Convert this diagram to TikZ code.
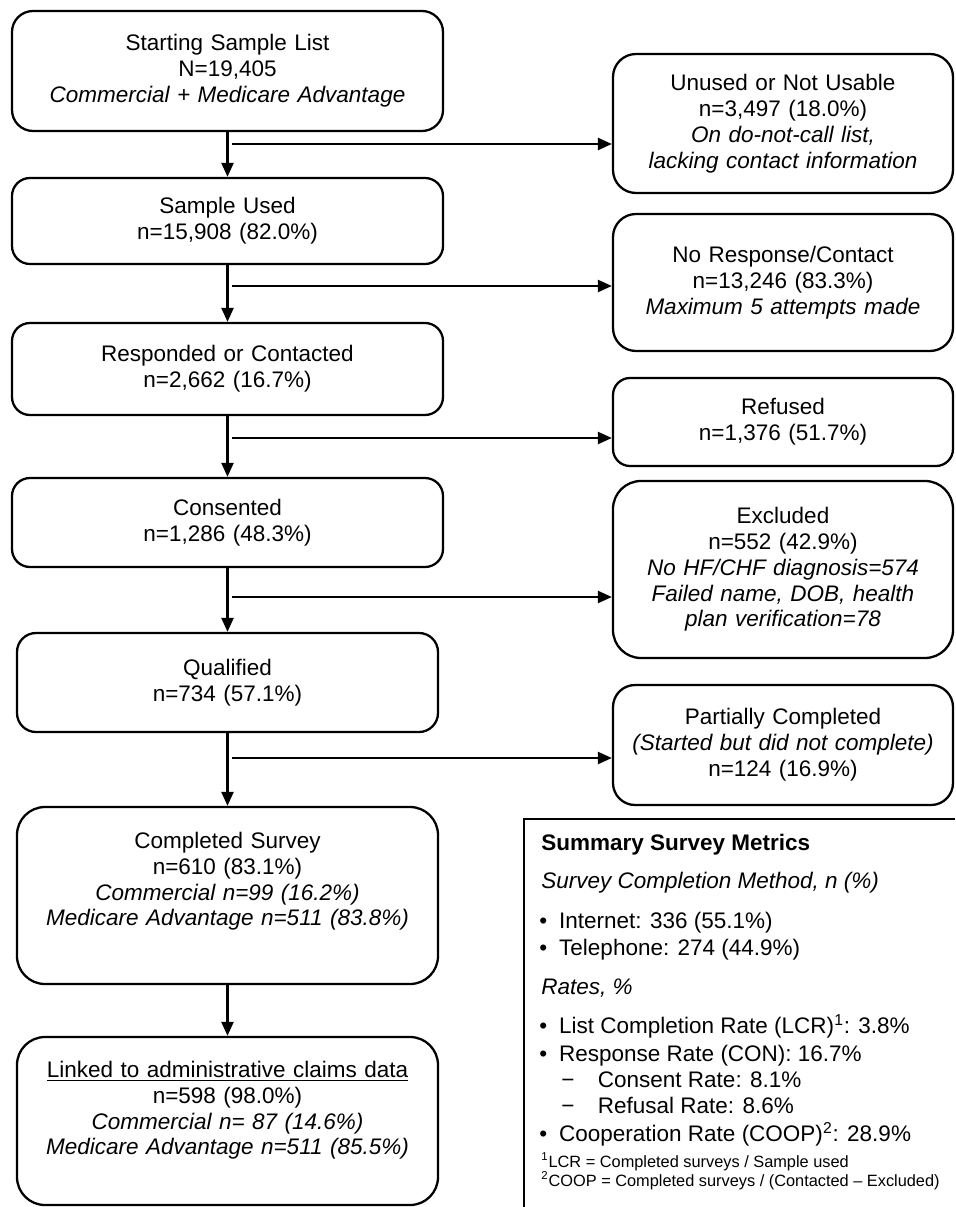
\documentclass[tikz,border=0pt]{standalone}
\usepackage{fontspec}
\setmainfont{Liberation Sans}
\usetikzlibrary{arrows.meta,calc}
\newcommand{\boxfont}{\fontsize{12.8}{14.7}\selectfont}
\newcommand{\notefont}{\fontsize{9.3}{10.8}\selectfont}
\tikzset{
	stage/.style={
			draw, line width=1.3pt, align=center, inner sep=0.15cm,
			font=\boxfont
		},
	mainbox/.style={stage, text width=8.32cm, minimum height=#1},
	sidebox/.style={stage, text width=6.5cm, minimum height=#1},
	flow/.style={-{Triangle[length=0.28cm, width=0.24cm]}, line width=1.3pt},
	metric/.style={anchor=base west, inner sep=0pt, font=\boxfont}
}
\begin{document}
\begin{tikzpicture}
        \useasboundingbox (0, 0) rectangle (19.1, -24.14);
        % main column
        \node[mainbox=2.4cm, rounded corners=0.42cm] (start) at (4.55, -1.42) {Starting Sample List\\N=19,405\\\textit{Commercial + Medicare Advantage}};
        \node[mainbox=1.72cm, rounded corners=0.36cm] (used) at (4.55, -4.42) {Sample Used\\n=15,908 (82.0\%)};
        \node[mainbox=1.84cm, rounded corners=0.36cm] (responded) at (4.55, -7.38) {Responded or Contacted\\n=2,662 (16.7\%)};
        \node[mainbox=1.78cm, rounded corners=0.36cm] (consented) at (4.55, -10.45) {Consented\\n=1,286 (48.3\%)};
        \node[mainbox=1.98cm, text width=8.12cm, rounded corners=0.38cm] (qualified) at (4.55, -13.65) {Qualified\\n=734 (57.1\%)};
        \node[mainbox=3.54cm, text width=8.12cm, rounded corners=0.56cm] (completed) at (4.55, -17.91) {Completed Survey\\n=610 (83.1\%)\\\textit{Commercial n=99 (16.2\%)}\\\textit{Medicare Advantage n=511 (83.8\%)}\\[4pt]\mbox{}};
        \node[mainbox=3.36cm, text width=8.12cm, rounded corners=0.56cm] (linked) at (4.55, -22.42) {\underline{Linked to administrative claims data}\\n=598 (98.0\%)\\\textit{Commercial n= 87 (14.6\%)}\\\textit{Medicare Advantage n=511 (85.5\%)}\\\mbox{}};
        % drop-outs
        \node[sidebox=2.78cm, rounded corners=0.46cm] (unused) at (15.66, -2.47) {Unused or Not Usable\\n=3,497 (18.0\%)\\\textit{On do-not-call list,}\\\textit{lacking contact information}};
        \node[sidebox=2.74cm, rounded corners=0.46cm] (noresp) at (15.66, -5.65) {No Response/Contact\\n=13,246 (83.3\%)\\\textit{Maximum 5 attempts made}};
        \node[sidebox=1.76cm, rounded corners=0.34cm] (refused) at (15.66, -8.44) {Refused\\n=1,376 (51.7\%)};
        \node[sidebox=3.54cm, rounded corners=0.56cm] (excluded) at (15.66, -11.39) {Excluded\\n=552 (42.9\%)\\\textit{No HF/CHF diagnosis=574}\\\textit{Failed name, DOB, health}\\\textit{plan verification=78}};
        \node[sidebox=2.4cm, rounded corners=0.44cm] (partial) at (15.66, -14.9) {Partially Completed\\\textit{(Started but did not complete)}\\n=124 (16.9\%)};
        % flow down
        \draw[flow] (start) -- (used);
        \draw[flow] (used) -- (responded);
        \draw[flow] (responded) -- (consented);
        \draw[flow] (consented) -- (qualified);
        \draw[flow] (qualified) -- (completed);
        \draw[flow] (completed) -- (linked);
        % branches
        \coordinate (fork1) at (4.64, -2.88);
        \coordinate (fork2) at (4.64, -5.72);
        \coordinate (fork3) at (4.64, -8.76);
        \coordinate (fork4) at (4.64, -11.94);
        \coordinate (fork5) at (4.64, -15.16);
        \draw[flow] (fork1) -- (fork1 -| unused.west);
        \draw[flow] (fork2) -- (fork2 -| noresp.west);
        \draw[flow] (fork3) -- (fork3 -| refused.west);
        \draw[flow] (fork4) -- (fork4 -| excluded.west);
        \draw[flow] (fork5) -- (fork5 -| partial.west);
        % summary panel
        \draw[line width=1.3pt] (19.1, -16.38) -- (10.48, -16.38) -- (10.48, -24.14);
        \node[metric, font=\boxfont\bfseries] (sumtitle) at (10.82, -17.0) {Summary Survey Metrics};
        \node[metric, font=\boxfont\itshape] (method) at (10.82, -17.76) {Survey Completion Method, n (\%)};
        \node[metric] (internet) at (10.78, -18.56) {•\hspace{0.24cm}Internet: 336 (55.1\%)};
        \node[metric] (phone) at (10.78, -19.10) {•\hspace{0.24cm}Telephone: 274 (44.9\%)};
        \node[metric, font=\boxfont\itshape] (rates) at (10.82, -19.88) {Rates, \%};
        \node[metric] (lcr) at (10.78, -20.66) {•\hspace{0.24cm}List Completion Rate (LCR)\textsuperscript{1}: 3.8\%};
        \node[metric] (con) at (10.78, -21.22) {•\hspace{0.24cm}Response Rate (CON): 16.7\%};
        \node[metric] (consent) at (11.22, -21.74) {−\hspace{0.47cm}Consent Rate: 8.1\%};
        \node[metric] (refusal) at (11.22, -22.26) {−\hspace{0.47cm}Refusal Rate: 8.6\%};
        \node[metric] (coop) at (10.78, -22.82) {•\hspace{0.24cm}Cooperation Rate (COOP)\textsuperscript{2}: 28.9\%};
        \node[metric, font=\notefont] (note1) at (10.82, -23.34) {\textsuperscript{1}LCR = Completed surveys / Sample used};
        \node[metric, font=\notefont] (note2) at (10.82, -23.72) {\textsuperscript{2}COOP = Completed surveys / (Contacted – Excluded)};
    \end{tikzpicture}
\end{document}
